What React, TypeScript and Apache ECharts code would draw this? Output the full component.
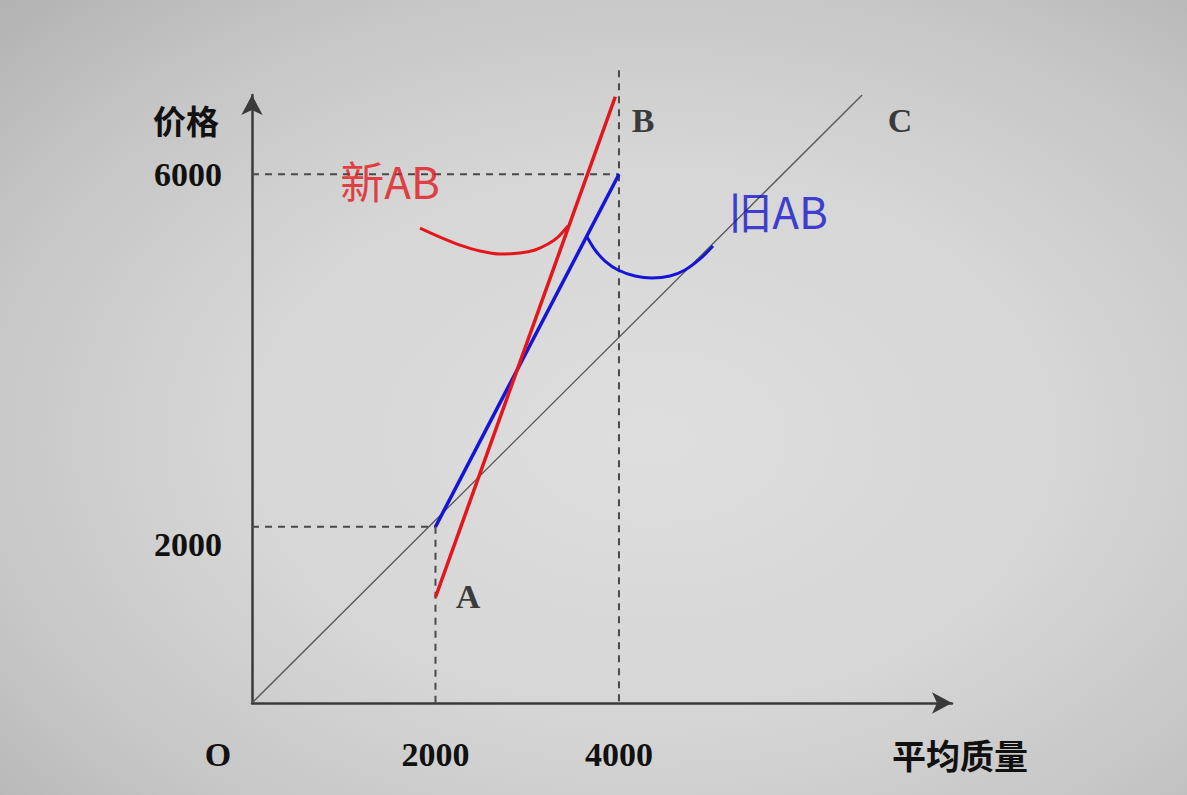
import React, { useEffect, useRef } from "react";
import * as echarts from "echarts";

// Tick labels
const xTickValues = [0, 2000, 4000];
const yTickValues = [2000, 6000];

// Straight lines (data coordinates)
const lineC = [[0, 0], [6650, 6900]];
const oldAB = [[2000, 2000], [4000, 6000]];
const newAB = [[2000, 1200], [3960, 6880]];

// Dashed guide lines
const guide2000H = [[0, 2000], [2000, 2000]];
const guide2000V = [[2000, 2000], [2000, 0]];
const guide6000H = [[0, 6000], [4000, 6000]];
const guide4000V = [[4000, 7180], [4000, 0]];

// Curved braces
const newCurve = [
  [1831, 5390], [2049, 5288], [2267, 5197], [2485, 5130], [2703, 5095],
  [2921, 5107], [3085, 5141], [3226, 5209], [3335, 5288], [3444, 5413],
];
const oldCurve = [
  [3652, 5288], [3739, 5141], [3848, 5016], [3990, 4914], [4175, 4846],
  [4360, 4823], [4556, 4846], [4720, 4914], [4883, 5039], [5025, 5186],
];

// Point labels
const pointLabels = [
  { name: "A", value: [2354, 1214] },
  { name: "B", value: [4262, 6605] },
  { name: "C", value: [7063, 6616] },
];
const curveLabels = [
  { name: "新AB", value: [1504, 5935], color: "#e3161b" },
  { name: "旧AB", value: [5734, 5595], color: "#1414cc" },
];

const axisNameX = "平均质量";
const axisNameY = "价格";

const serif = "'Liberation Serif', 'Times New Roman', serif";
const cjk = "'Noto Sans CJK SC', 'Noto Sans', sans-serif";

export default function App() {
  const ref = useRef<HTMLDivElement>(null);
  useEffect(() => {
    if (!ref.current) return;
    const chart = echarts.init(ref.current, undefined, { renderer: "svg" });
    const dashed = (data: number[][]) => ({
      type: "line",
      data,
      symbol: "none",
      clip: false,
      silent: true,
      lineStyle: { color: "#4a4a4a", width: 2, type: [7, 6] },
      z: 1,
    });
    chart.setOption({
      animation: false,
      backgroundColor: "transparent",
      grid: { left: 252, right: 235, top: 95, bottom: 92, containLabel: false },
      xAxis: {
        type: "value",
        min: 0,
        max: 7630,
        splitLine: { show: false },
        axisTick: { show: false },
        axisLine: {
          show: true,
          symbol: ["none", "arrow"],
          symbolSize: [16, 20],
          lineStyle: { color: "#3a3a3a", width: 2.5 },
        },
        axisLabel: {
          customValues: xTickValues,
          margin: 34,
          color: "#111",
          fontFamily: serif,
          fontWeight: "bold",
          fontSize: 34,
          formatter: (v: number) => (v === 0 ? "{o|O}" : String(v)),
          rich: {
            o: { padding: [0, 68, 0, 0], fontFamily: serif, fontWeight: "bold", fontSize: 34, color: "#111" },
          },
        },
      },
      yAxis: {
        type: "value",
        min: 0,
        max: 6900,
        splitLine: { show: false },
        axisTick: { show: false },
        axisLine: {
          show: true,
          symbol: ["none", "arrow"],
          symbolSize: [16, 20],
          lineStyle: { color: "#3a3a3a", width: 2.5 },
        },
        axisLabel: {
          customValues: yTickValues,
          margin: 30,
          color: "#111",
          fontFamily: serif,
          fontWeight: "bold",
          fontSize: 34,
          formatter: (v: number) => (v === 2000 ? "{d|" + v + "}" : String(v)),
          rich: {
            d: { padding: [36, 0, 0, 0], fontFamily: serif, fontWeight: "bold", fontSize: 34, color: "#111" },
          },
        },
      },
      graphic: [
        {
          type: "text",
          left: 153,
          top: 103,
          style: { text: axisNameY, font: "bold 33px " + cjk, fill: "#111" },
        },
        {
          type: "text",
          left: 892,
          top: 737,
          style: { text: axisNameX, font: "bold 34px " + cjk, fill: "#111" },
        },
      ],
      series: [
        dashed(guide2000H),
        dashed(guide2000V),
        dashed(guide6000H),
        dashed(guide4000V),
        {
          type: "line",
          data: lineC,
          symbol: "none",
          lineStyle: { color: "#555", width: 1.3 },
          z: 2,
        },
        {
          type: "line",
          data: oldAB,
          symbol: "none",
          lineStyle: { color: "#1515d8", width: 3.5 },
          z: 3,
        },
        {
          type: "line",
          data: newAB,
          symbol: "none",
          clip: false,
          lineStyle: { color: "#e3161b", width: 3.5 },
          z: 4,
        },
        {
          type: "line",
          data: newCurve,
          symbol: "none",
          smooth: 0.3,
          lineStyle: { color: "#e3161b", width: 3 },
          z: 4,
        },
        {
          type: "line",
          data: oldCurve,
          symbol: "none",
          smooth: 0.3,
          lineStyle: { color: "#1515d8", width: 3 },
          z: 4,
        },
        {
          type: "scatter",
          data: pointLabels,
          symbolSize: 1,
          clip: false,
          itemStyle: { color: "transparent" },
          label: {
            show: true,
            position: "inside",
            formatter: "{b}",
            fontFamily: serif,
            fontWeight: "bold",
            fontSize: 34,
            color: "#111",
          },
          z: 5,
        },
        {
          type: "scatter",
          data: curveLabels.map((d) => ({
            name: d.name,
            value: d.value,
            label: { color: d.color },
          })),
          symbolSize: 1,
          clip: false,
          itemStyle: { color: "transparent" },
          label: {
            show: true,
            position: "inside",
            formatter: "{b}",
            fontFamily: cjk,
            fontSize: 44,
          },
          z: 5,
        },
      ],
    });
    return () => chart.dispose();
  }, []);
  return (
    <div
      style={{
        position: "absolute",
        left: 0,
        top: 0,
        width: 1187,
        height: 795,
        background:
          "radial-gradient(ellipse at 55% 55%, #dedede 0%, #d6d6d6 45%, #c6c6c6 75%, #b2b2b2 100%)",
      }}
    >
      <div ref={ref} style={{ width: 1187, height: 795 }} />
    </div>
  );
}
